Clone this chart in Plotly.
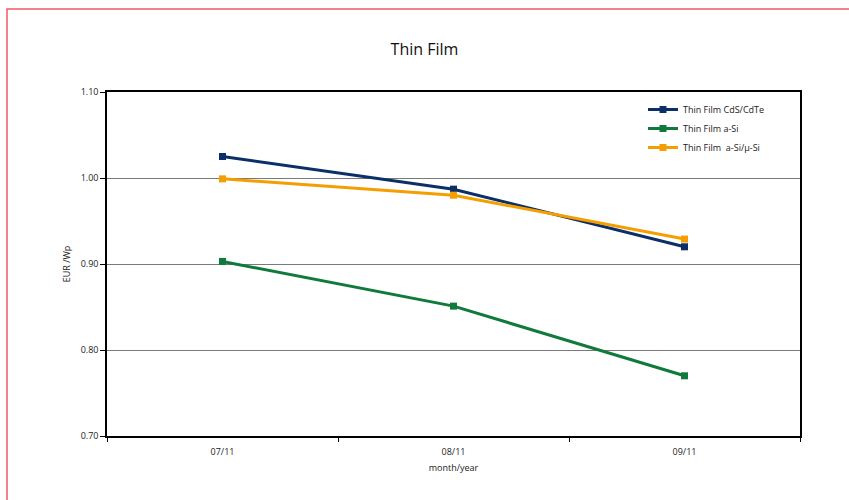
import plotly.graph_objects as go

months = ["07/11", "08/11", "09/11"]
cdte = [1.025, 0.987, 0.920]
asi = [0.903, 0.851, 0.770]
asi_usi = [0.999, 0.980, 0.929]
series_names = ["Thin Film CdS/CdTe", "Thin Film a-Si", "Thin Film  a-Si/\u00b5-Si"]
colors = ["#0b3068", "#0f7a3c", "#f59e00"]
y_ticks = [0.70, 0.80, 0.90, 1.00, 1.10]

L, R, T, B = 107, 800, 92, 436
W, H = 849, 500

fig = go.Figure()
for name, vals, c in zip(series_names, [cdte, asi, asi_usi], colors):
    fig.add_trace(go.Scatter(x=months, y=vals, name=name, mode="lines+markers",
                             line=dict(color=c, width=3),
                             marker=dict(symbol="square", size=7, color=c)))

pw, ph = R - L, B - T
def px(x):
    return (x - L) / pw
def py(y):
    return (B - y) / ph

fig.update_layout(
    width=W, height=H,
    margin=dict(l=L, r=W - R, t=T, b=H - B),
    paper_bgcolor="white", plot_bgcolor="white",
    font=dict(family="Open Sans, Liberation Sans, sans-serif", size=9, color="#222"),
    title=dict(text="Thin Film", x=0.5, xref="container", y=1 - 49 / H, yref="container",
               xanchor="center", yanchor="middle", font=dict(size=16, color="#111")),
    showlegend=True,
    legend=dict(x=px(643), y=py(95), xanchor="left", yanchor="top",
                bgcolor="rgba(0,0,0,0)", font=dict(size=9), tracegroupgap=0,
                itemwidth=30),
    xaxis=dict(type="category", range=[-0.5, 2.5], showline=True, linecolor="black",
               linewidth=1.5, mirror=True, ticks="outside", tickson="boundaries",
               ticklen=4, tickcolor="black", showgrid=False, ticklabelstandoff=6,
               title=dict(text="month/year", standoff=8, font=dict(size=9))),
    yaxis=dict(range=[0.70, 1.10], tickvals=y_ticks, tickformat=".2f", showline=True,
               linecolor="black", linewidth=1.5, mirror=True, ticks="outside", ticklen=5,
               tickcolor="black", showgrid=True, gridcolor="#7a7a7a", gridwidth=1.2,
               zeroline=False,
               title=dict(text="EUR /Wp", standoff=8, font=dict(size=9))),
    shapes=[dict(type="rect", xref="paper", yref="paper",
                 x0=px(7), x1=px(900), y0=py(540), y1=py(9),
                 line=dict(color="#ee5a6a", width=1.5), layer="below")],
)

fig.write_html("out.html")
